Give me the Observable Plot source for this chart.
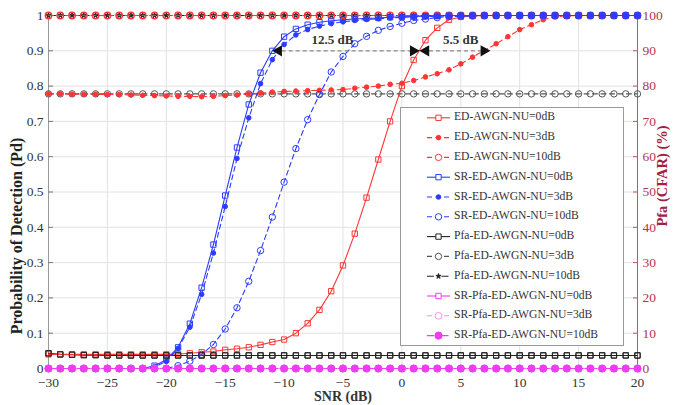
<!DOCTYPE html>
<html><head><meta charset="utf-8">
<script src="https://cdn.jsdelivr.net/npm/d3@7"></script>
<script src="https://cdn.jsdelivr.net/npm/@observablehq/plot@0.6"></script>
<style>
body{margin:0;background:#fff;}
#chart{width:679px;height:405px;}
</style></head><body><div id="chart"></div>
<script>
// ---------- data ----------
const snr = [-30,-29,-28,-27,-26,-25,-24,-23,-22,-21,-20,-19,-18,-17,-16,-15,-14,-13,-12,-11,-10,-9,-8,-7,-6,-5,-4,-3,-2,-1,0,1,2,3,4,5,6,7,8,9,10,11,12,13,14,15,16,17,18,19,20];

const edNU0 = [0.040,0.040,0.040,0.040,0.040,0.040,0.040,0.040,0.040,0.040,0.040,0.041,0.043,0.046,0.048,0.053,0.056,0.060,0.067,0.075,0.082,0.100,0.128,0.166,0.219,0.292,0.382,0.484,0.592,0.700,0.800,0.874,0.930,0.965,0.988,0.996,0.999,1,1,1,1,1,1,1,1,1,1,1,1,1,1];
const edNU3 = [0.778,0.778,0.777,0.777,0.777,0.776,0.776,0.775,0.774,0.773,0.772,0.771,0.771,0.770,0.771,0.773,0.775,0.778,0.780,0.783,0.785,0.786,0.787,0.788,0.789,0.790,0.794,0.797,0.800,0.805,0.808,0.816,0.826,0.835,0.846,0.863,0.882,0.901,0.920,0.940,0.960,0.974,0.988,0.996,0.999,1,1,1,1,1,1];
const edNU10 = [1,1,1,1,1,1,1,1,1,1,1,1,1,1,1,1,1,1,1,1,1,1,1,1,1,1,1,1,1,1,1,1,1,1,1,1,1,1,1,1,1,1,1,1,1,1,1,1,1,1,1];
const srNU0 = [0,0,0,0,0,0,0,0,0,0.008,0.025,0.060,0.127,0.229,0.351,0.490,0.626,0.748,0.838,0.900,0.940,0.962,0.974,0.981,0.985,0.988,0.990,0.992,0.993,0.995,0.996,0.997,0.998,0.999,1,1,1,1,1,1,1,1,1,1,1,1,1,1,1,1,1];
const srNU3 = [0,0,0,0,0,0,0,0,0,0.005,0.020,0.057,0.117,0.210,0.327,0.459,0.595,0.710,0.807,0.875,0.918,0.945,0.960,0.970,0.977,0.982,0.986,0.989,0.991,0.993,0.995,0.996,0.997,0.998,0.999,1,1,1,1,1,1,1,1,1,1,1,1,1,1,1,1];
const srNU10 = [0,0,0,0,0,0,0,0,0,0,0,0.008,0.021,0.040,0.068,0.112,0.172,0.247,0.334,0.429,0.528,0.623,0.705,0.776,0.840,0.884,0.920,0.941,0.958,0.969,0.978,0.986,0.990,0.994,0.997,0.998,0.999,1,1,1,1,1,1,1,1,1,1,1,1,1,1];
// Pfa series in percent (right axis)
const pfaNU0 = [4.3,4.0,3.9,3.8,3.8,3.7,3.7,3.7,3.7,3.7,3.7,3.7,3.7,3.7,3.7,3.7,3.7,3.7,3.7,3.7,3.7,3.7,3.7,3.7,3.7,3.7,3.7,3.7,3.7,3.7,3.7,3.7,3.7,3.7,3.7,3.7,3.7,3.7,3.7,3.7,3.7,3.7,3.7,3.7,3.7,3.7,3.7,3.7,3.7,3.7,3.7];
const pfaNU3 = [77.8,77.8,77.8,77.8,77.8,77.8,77.8,77.8,77.8,77.8,77.8,77.8,77.8,77.8,77.8,77.8,77.8,77.8,77.8,77.8,77.8,77.8,77.8,77.8,77.8,77.8,77.8,77.8,77.8,77.8,77.8,77.8,77.8,77.8,77.8,77.8,77.8,77.8,77.8,77.8,77.8,77.8,77.8,77.8,77.8,77.8,77.8,77.8,77.8,77.8,77.8];
const pfaNU10 = [100,100,100,100,100,100,100,100,100,100,100,100,100,100,100,100,100,100,100,100,100,100,100,100,100,100,100,100,100,100,100,100,100,100,100,100,100,100,100,100,100,100,100,100,100,100,100,100,100,100,100];
const srPfaNU0 = [0,0,0,0,0,0,0,0,0,0,0,0,0,0,0,0,0,0,0,0,0,0,0,0,0,0,0,0,0,0,0,0,0,0,0,0,0,0,0,0,0,0,0,0,0,0,0,0,0,0,0];
const srPfaNU3 = [0,0,0,0,0,0,0,0,0,0,0,0,0,0,0,0,0,0,0,0,0,0,0,0,0,0,0,0,0,0,0,0,0,0,0,0,0,0,0,0,0,0,0,0,0,0,0,0,0,0,0];
const srPfaNU10 = [0,0,0,0,0,0,0,0,0,0,0,0,0,0,0,0,0,0,0,0,0,0,0,0,0,0,0,0,0,0,0,0,0,0,0,0,0,0,0,0,0,0,0,0,0,0,0,0,0,0,0];

const seriesNames = ["ED-AWGN-NU=0dB","ED-AWGN-NU=3dB","ED-AWGN-NU=10dB","SR-ED-AWGN-NU=0dB","SR-ED-AWGN-NU=3dB","SR-ED-AWGN-NU=10dB","Pfa-ED-AWGN-NU=0dB","Pfa-ED-AWGN-NU=3dB","Pfa-ED-AWGN-NU=10dB","SR-Pfa-ED-AWGN-NU=0dB","SR-Pfa-ED-AWGN-NU=3dB","SR-Pfa-ED-AWGN-NU=10dB"];
const seriesValues = [edNU0,edNU3,edNU10,srNU0,srNU3,srNU10,pfaNU0,pfaNU3,pfaNU10,srPfaNU0,srPfaNU3,srPfaNU10];
const seriesIsPercent = [false,false,false,false,false,false,true,true,true,true,true,true];

const xTicks = [-30,-25,-20,-15,-10,-5,0,5,10,15,20];
const yTicks = [0,0.1,0.2,0.3,0.4,0.5,0.6,0.7,0.8,0.9,1];
const yTickLabels = ["0","0.1","0.2","0.3","0.4","0.5","0.6","0.7","0.8","0.9","1"];
const pctTickLabels = ["0","10","20","30","40","50","60","70","80","90","100"];

const annotations = [
  {x1:-10.8, x2:1.3, y:0.9, labelX:-5.9, labelY:0.93, label:"12.5 dB"},
  {x1:1.7, x2:7.3, y:0.9, labelX:5.0, labelY:0.93, label:"5.5 dB"}
];

// ---------- styles ----------
const RED = "#ff3535", BLUE = "#2b3cff", BLACK = "#222222", GREY = "#555555", MAG = "#f03cf0", MAGL = "#ff8cff";
const sColor = [RED,RED,RED,BLUE,BLUE,BLUE,BLACK,GREY,BLACK,MAG,MAGL,MAG];
const sDash = [null,"5,3.5","5,3.5",null,"5,3.5","5,3.5",null,"5,3.5","7,3,1.5,3",null,"5,3.5","7,3,1.5,3"];
const sSymbol = ["square","circle","circle","square","circle","circle","square","circle","star","square","circle","circle"];
const sFilled = [false,true,false,false,true,false,false,false,true,false,false,true];
const sR = [3.0,2.3,3.2,3.0,2.3,3.2,3.0,3.2,1.6,3.0,3.4,3.6];
const sStrokeW = [1,1,1.4,1,1,1,1,1,1,1,1,1];

const rows = [];
seriesNames.forEach((name,i) => seriesValues[i].forEach((v,j) =>
  rows.push({series:name, idx:i, snr:snr[j], y: seriesIsPercent[i] ? v/100 : v})));

const marks = [
  Plot.gridX(xTicks, {stroke:"#e2e2e2", strokeOpacity:1}),
  Plot.gridY(yTicks, {stroke:"#e2e2e2", strokeOpacity:1}),
  Plot.ruleX([-30], {stroke:"#9a9a9a"}),
  Plot.ruleX([20], {stroke:"#c8506a"}),
  Plot.axisX(xTicks, {tickSize:0, tickPadding:9, label:null, fontSize:13.5, fill:"#333"}),
  Plot.axisY(yTicks, {anchor:"left", tickSize:-5, tickPadding:10, label:null, fontSize:13.5, stroke:"#777", fill:"#333",
    tickFormat:(d,i)=>yTickLabels[i]}),
  Plot.axisY(yTicks, {anchor:"right", tickSize:-5, tickPadding:10, label:null, fontSize:13.5, stroke:"#c8506a", fill:"#b3344f",
    tickFormat:(d,i)=>pctTickLabels[i]})
];
const drawOrder = [6,7,8,0,1,2,3,4,5,9,10,11];
drawOrder.forEach(i => {
  const d = rows.filter(r => r.idx === i);
  marks.push(Plot.line(d, {x:"snr", y:"y", stroke:sColor[i], strokeWidth:1.1, strokeDasharray:sDash[i]}));
  marks.push(Plot.dot(d, {x:"snr", y:"y", symbol:sSymbol[i], r:sR[i], stroke:sColor[i], strokeWidth:sStrokeW[i],
    fill: sFilled[i] ? sColor[i] : "none"}));
});
// black squares of the 0 dB Pfa line lie over the red curve at the bottom left
marks.push(Plot.dot(rows.filter(r => r.idx === 6), {x:"snr", y:"y", symbol:"square", r:3.0, stroke:BLACK, strokeWidth:1}));
// annotation arrows
marks.push(Plot.link(annotations, {x1:"x1", x2:"x2", y1:"y", y2:"y", stroke:"#8a8a8a", strokeWidth:1.3, strokeDasharray:"4,3"}));
marks.push(Plot.dot(annotations, {x:"x1", y:"y", symbol:"triangle", r:4.2, rotate:-90, fill:"#111", dx:4}));
marks.push(Plot.dot(annotations, {x:"x2", y:"y", symbol:"triangle", r:4.2, rotate:90, fill:"#111", dx:-4}));
marks.push(Plot.text(annotations, {x:"labelX", y:"labelY", text:"label", fontWeight:"bold", fontSize:13, fill:"#333"}));

const svg = Plot.plot({
  width:679, height:405,
  marginLeft:48, marginRight:42, marginTop:15, marginBottom:37,
  style:{fontFamily:"'Liberation Serif', 'Times New Roman', serif", fontSize:"13px", background:"#fff"},
  x:{domain:[-30,20]},
  y:{domain:[0,1]},
  marks
});
document.getElementById("chart").appendChild(svg);

// ---------- axis titles & legend ----------
const s = d3.select(svg);
const ff = "'Liberation Serif', 'Times New Roman', serif";
s.append("text").attr("x",343).attr("y",398).attr("text-anchor","middle").attr("dominant-baseline","middle")
  .attr("font-family",ff).attr("font-weight","bold").attr("font-size",14).attr("fill","#333").text("SNR (dB)");
s.append("text").attr("transform","translate(18,236) rotate(-90)").attr("text-anchor","middle").attr("dominant-baseline","middle")
  .attr("font-family",ff).attr("font-weight","bold").attr("font-size",16).attr("fill","#222").text("Probability of Detection (Pd)");
s.append("text").attr("transform","translate(664,176) rotate(-90)").attr("text-anchor","middle").attr("dominant-baseline","middle")
  .attr("font-family",ff).attr("font-weight","bold").attr("font-size",14.5).attr("fill","#a3213f").text("Pfa (CFAR) (%)");

const lg = s.append("g");
lg.append("rect").attr("x",400.5).attr("y",107.5).attr("width",223).attr("height",238).attr("fill","#fff").attr("stroke","#9a9a9a");
const symMap = {square:d3.symbolSquare, circle:d3.symbolCircle, star:d3.symbolStar};
seriesNames.forEach((name,i) => {
  const y = 117.8 + i*19.8;
  lg.append("line").attr("x1",427).attr("x2",450).attr("y1",y).attr("y2",y)
    .attr("stroke",sColor[i]).attr("stroke-width",1.1).attr("stroke-dasharray",sDash[i]);
  lg.append("path").attr("transform",`translate(438.5,${y})`)
    .attr("d", d3.symbol(symMap[sSymbol[i]], Math.PI*sR[i]*sR[i])())
    .attr("fill", sFilled[i] ? sColor[i] : "#fff").attr("stroke",sColor[i]).attr("stroke-width",1);
  lg.append("text").attr("x",454).attr("y",y).attr("text-anchor","start").attr("dominant-baseline","middle")
    .attr("font-family",ff).attr("font-size",11.6).attr("fill","#333").text(name);
});
</script>
</body></html>
